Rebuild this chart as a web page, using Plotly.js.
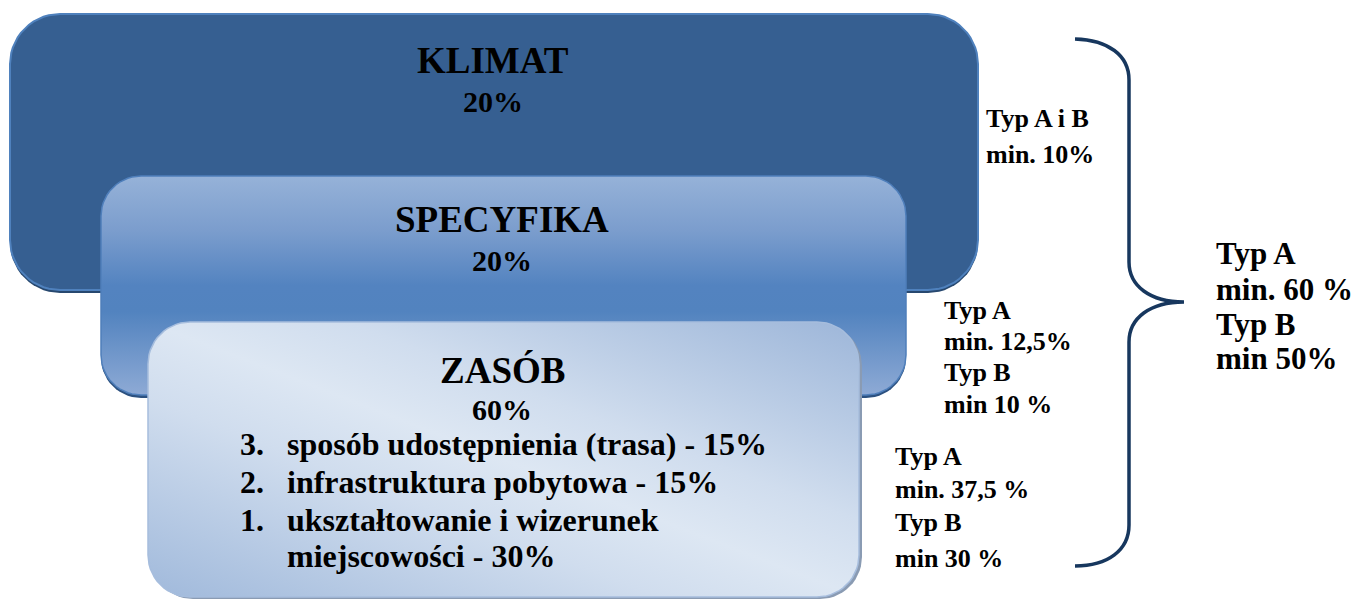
<!DOCTYPE html>
<html>
<head>
<meta charset="utf-8">
<script src="https://cdn.plot.ly/plotly-3.0.1.min.js"></script>
<style>html,body{margin:0;padding:0;background:#fff;}#chart{width:1357px;height:599px;}</style>
</head>
<body>
<div id="chart"></div>
<script>
// ---- content ----
const levels = ['KLIMAT', 'SPECYFIKA', 'ZASÓB'];
const weights = ['20%', '20%', '60%'];
const subNums = ['3.', '2.', '1.', ''];
const subItems = ['sposób udostępnienia (trasa) - 15%', 'infrastruktura pobytowa - 15%', 'ukształtowanie i wizerunek', 'miejscowości - 30%'];
const reqKlimat = ['Typ A i B', 'min. 10%'];
const reqSpecyfika = ['Typ A', 'min. 12,5%', 'Typ B', 'min 10 %'];
const reqZasob = ['Typ A', 'min. 37,5 %', 'Typ B', 'min 30 %'];
const reqTotal = ['Typ A', 'min. 60 %', 'Typ B', 'min 50%'];

// ---- layout geometry (pixel space of the 1357x599 canvas) ----
const W = 1357, H = 599;
const boxes = [
  {x0: 10, y0: 14, x1: 978, y1: 290, r: 50},   // KLIMAT
  {x0: 101, y0: 176, x1: 906, y1: 395, r: 40}, // SPECYFIKA
  {x0: 148, y0: 322, x1: 859, y1: 597, r: 42}  // ZASÓB
];

function roundedRect(b, dx, dy) {
  const xs = [], ys = [], n = 14;
  const c = [
    [b.x1 - b.r, b.y0 + b.r, -Math.PI / 2, 0],
    [b.x1 - b.r, b.y1 - b.r, 0, Math.PI / 2],
    [b.x0 + b.r, b.y1 - b.r, Math.PI / 2, Math.PI],
    [b.x0 + b.r, b.y0 + b.r, Math.PI, 1.5 * Math.PI]
  ];
  c.forEach(([cx, cy, a0, a1]) => {
    for (let i = 0; i <= n; i++) {
      const a = a0 + (a1 - a0) * i / n;
      xs.push(cx + b.r * Math.cos(a) + dx);
      ys.push(cy + b.r * Math.sin(a) + dy);
    }
  });
  xs.push(xs[0]); ys.push(ys[0]);
  return {x: xs, y: ys};
}

function boxTrace(b, opts, dx, dy) {
  const p = roundedRect(b, dx || 0, dy || 0);
  return Object.assign({
    type: 'scatter', mode: 'lines', x: p.x, y: p.y, fill: 'toself',
    hoverinfo: 'skip', showlegend: false
  }, opts);
}

const traces = [
  // KLIMAT
  boxTrace(boxes[0], {fillcolor: '#27486f', line: {width: 0, color: '#27486f'}}, 0, 3),
  boxTrace(boxes[0], {fillcolor: '#365f91', line: {width: 2, color: '#4f81bd'}}),
  // SPECYFIKA
  boxTrace(boxes[1], {fillcolor: '#2c5180', line: {width: 0, color: '#2c5180'}}, 0, 3),
  boxTrace(boxes[1], {
    line: {width: 1.5, color: '#4f7fbb'},
    fillgradient: {type: 'vertical', start: 176, stop: 395,
      colorscale: [[0, '#96b2d8'], [0.25, '#7b9dcd'], [0.5, '#5383c0'], [0.62, '#5283bf'], [1, '#8eaad5']]}
  }),
  // ZASÓB
  boxTrace(boxes[2], {fillcolor: '#8a9bb3', line: {width: 0, color: '#8a9bb3'}}, 3, 2),
  boxTrace(boxes[2], {
    line: {width: 1.5, color: '#a6bddd'},
    fillgradient: {type: 'horizontal', start: 148, stop: 859,
      colorscale: [[0, '#9db6d9'], [0.36, '#d0ddee'], [0.5, '#dde7f3'], [0.64, '#d0ddee'], [1, '#a0b9db']]}
  })
];

const FONT = 'Liberation Serif';
const ann = [];
function txt(text, x, y, size, xanchor) {
  ann.push({text: '<b>' + text + '</b>', x: x, y: y, xref: 'x', yref: 'y', showarrow: false,
    xanchor: xanchor || 'center', yanchor: 'middle',
    font: {family: FONT, size: size, color: '#000'}});
}

// level titles and weights
const titleY = [60, 219, 370];
const weightY = [101, 260, 409];
const centerX = [493, 502, 502];
levels.forEach((l, i) => {
  txt(l, centerX[i], titleY[i], 37);
  txt(weights[i], centerX[i], weightY[i], 30);
});

// sub-items of ZASÓB
const subY = [444, 482, 520, 556];
subItems.forEach((s, i) => {
  if (subNums[i]) txt(subNums[i], 238, subY[i], 32, 'left');
  txt(s, 285, subY[i], 32, 'left');
});

// requirement labels
const kY = [118, 154];
reqKlimat.forEach((s, i) => txt(s, 984, kY[i], 26, 'left'));
const sY = [310, 341, 372, 404];
reqSpecyfika.forEach((s, i) => txt(s, 942, sY[i], 26, 'left'));
const zY = [456, 489, 522, 558];
reqZasob.forEach((s, i) => txt(s, 893, zY[i], 26, 'left'));
const tY = [253, 289, 324, 358];
reqTotal.forEach((s, i) => txt(s, 1214, tY[i], 31, 'left'));

const layout = {
  width: W, height: H,
  margin: {l: 0, r: 0, t: 0, b: 0, pad: 0},
  paper_bgcolor: '#ffffff', plot_bgcolor: '#ffffff',
  font: {family: FONT},
  xaxis: {range: [0, W], visible: false, fixedrange: true},
  yaxis: {range: [H, 0], visible: false, fixedrange: true},
  showlegend: false,
  annotations: ann,
  shapes: [{
    type: 'path', xref: 'x', yref: 'y',
    path: 'M1075,39 C1108,40 1129,55 1129,80 L1129,262 C1129,286 1150,302 1184,302 ' +
          'C1150,302 1129,318 1129,342 L1129,525 C1129,550 1108,566 1075,566',
    line: {color: '#17375e', width: 3.5}
  }]
};

Plotly.newPlot('chart', traces, layout, {displayModeBar: false, staticPlot: true}).then(function (gd) {
  // turn the ZASÓB gradient into a diagonal one (light band along the top-left / bottom-right diagonal)
  try {
    const b = boxes[2];
    const xa = gd._fullLayout.xaxis, ya = gd._fullLayout.yaxis;
    const tr = gd.querySelectorAll('.scatterlayer .trace')[5];
    const fill = tr && tr.querySelector('.js-fill');
    if (!fill) return;
    const m = (fill.style.fill || fill.getAttribute('fill') || '').match(/url\(["']?#([^"')]+)["']?\)/);
    if (!m) return;
    const g = document.getElementById(m[1]);
    if (!g || g.tagName.toLowerCase() !== 'lineargradient') return;
    const cx = (b.x0 + b.x1) / 2, cy = (b.y0 + b.y1) / 2;
    const w = b.x1 - b.x0, h = b.y1 - b.y0;
    const L = Math.hypot(w, h), ux = h / L, uy = -w / L;
    const k = (w / 2) * ux + (h / 2) * (-uy);
    g.setAttribute('gradientUnits', 'userSpaceOnUse');
    g.setAttribute('x1', xa.c2p(cx + k * ux)); g.setAttribute('y1', ya.c2p(cy + k * uy));
    g.setAttribute('x2', xa.c2p(cx - k * ux)); g.setAttribute('y2', ya.c2p(cy - k * uy));
  } catch (e) { /* keep horizontal gradient */ }
});
</script>
</body>
</html>
